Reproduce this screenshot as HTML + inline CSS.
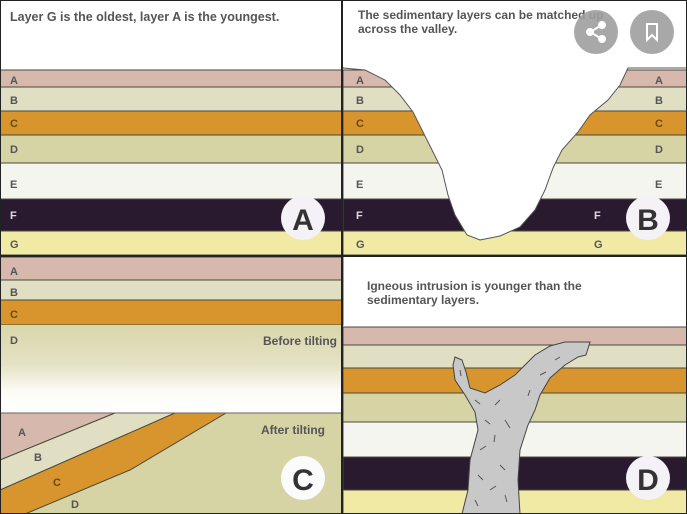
<!DOCTYPE html>
<html><head><meta charset="utf-8"><style>
html,body{margin:0;padding:0;background:#fff}
svg{display:block}
text{font-family:"Liberation Sans",sans-serif;font-weight:bold}
</style></head><body>
<svg width="687" height="514" viewBox="0 0 687 514" xmlns="http://www.w3.org/2000/svg">
<defs>
<linearGradient id="fade" x1="0" y1="0" x2="0" y2="1">
<stop offset="0" stop-color="#d9d6ab"/><stop offset="0.45" stop-color="#e4e2c4"/><stop offset="0.75" stop-color="#fbfbf6"/><stop offset="1" stop-color="#ffffff"/>
</linearGradient>
<g id="layers" stroke="#4a4a3a" stroke-width="1">
<rect x="0" y="70" width="344" height="17" fill="#d7b8ad"/>
<rect x="0" y="87" width="344" height="24" fill="#e0dfc4"/>
<rect x="0" y="111" width="344" height="24" fill="#d8952e"/>
<rect x="0" y="135" width="344" height="28" fill="#d6d3a5"/>
<rect x="0" y="163" width="344" height="36" fill="#f5f5f0"/>
<rect x="0" y="199" width="344" height="32" fill="#2a1a30"/>
<rect x="0" y="231" width="344" height="24" fill="#f0eaa5"/>
</g>
</defs>
<rect width="687" height="514" fill="#fff"/>
<!-- Panel A -->
<use href="#layers"/>
<g font-size="11" fill="#555">
<text x="10" y="21" font-size="12.5">Layer G is the oldest, layer A is the youngest.</text>
<text x="10" y="84">A</text><text x="10" y="104">B</text><text x="10" y="127" fill="#6a4a10">C</text>
<text x="10" y="153">D</text><text x="10" y="188">E</text><text x="10" y="219" fill="#ddd">F</text><text x="10" y="248">G</text>
</g>
<circle cx="303" cy="218" r="22" fill="#f4f2f6"/><text x="303" y="230" font-size="30" text-anchor="middle" fill="#333">A</text>
<!-- Panel B -->
<g transform="translate(343,0)"><use href="#layers"/></g>
<path d="M343,68 L365,70 L385,80 L400,95 L413,112 L422,130 L432,150 L442,170 L448,195 L455,215 L467,235 L480,240 L500,236 L520,227 L535,210 L545,190 L553,168 L562,150 L578,132 L590,115 L608,100 L620,85 L628,68 L687,68 L687,0 L343,0 Z" fill="#fff" stroke="#555" stroke-width="1"/>
<rect x="343" y="0" width="344" height="67" fill="#fff"/>
<g font-size="11" fill="#555">
<text x="358" y="19" font-size="12">The sedimentary layers can be matched up</text>
<text x="358" y="33" font-size="12">across the valley.</text>
<text x="356" y="84">A</text><text x="356" y="104">B</text><text x="356" y="127" fill="#6a4a10">C</text>
<text x="356" y="153">D</text><text x="356" y="188">E</text><text x="356" y="219" fill="#ddd">F</text><text x="356" y="248">G</text>
<text x="655" y="84">A</text><text x="655" y="104">B</text><text x="655" y="127" fill="#6a4a10">C</text>
<text x="655" y="153">D</text><text x="655" y="188">E</text><text x="594" y="219" fill="#ddd">F</text><text x="594" y="248">G</text>
</g>
<circle cx="648" cy="218" r="22" fill="#f4f2f6"/><text x="648" y="230" font-size="30" text-anchor="middle" fill="#333">B</text>
<circle cx="596" cy="32" r="22" fill="#9e9e9e" opacity="0.9"/>
<circle cx="652" cy="32" r="22" fill="#9e9e9e" opacity="0.9"/>
<g stroke="#fff" stroke-width="2" fill="#fff"><line x1="590" y1="32" x2="602" y2="25"/><line x1="590" y1="32" x2="602" y2="39"/><circle cx="590" cy="32" r="3"/><circle cx="602" cy="25" r="3"/><circle cx="602" cy="39" r="3"/></g>
<path d="M647,24 h10 v16 l-5,-5 l-5,5 z" fill="none" stroke="#fff" stroke-width="2"/>
<!-- Panel C -->
<g stroke="#4a4a3a" stroke-width="1">
<rect x="0" y="257" width="343" height="23" fill="#d7b8ad"/>
<rect x="0" y="280" width="343" height="20" fill="#e0dfc4"/>
<rect x="0" y="300" width="343" height="25" fill="#d8952e"/>
</g>
<rect x="0" y="325" width="343" height="88" fill="url(#fade)"/>
<rect x="0" y="413" width="343" height="101" fill="#d6d3a5"/>
<path d="M0,413 L115,413 L0,460 Z" fill="#d7b8ad" stroke="#4a4a3a"/>
<path d="M115,413 L175,413 L0,490 L0,460 Z" fill="#e0dfc4" stroke="#4a4a3a"/>
<path d="M175,413 L226,413 L130,470 L25,514 L0,514 L0,490 Z" fill="#d8952e" stroke="#4a4a3a"/>
<line x1="0" y1="413" x2="343" y2="413" stroke="#666"/>
<g font-size="11" fill="#555">
<text x="10" y="275">A</text><text x="10" y="296">B</text><text x="10" y="318" fill="#6a4a10">C</text><text x="10" y="344">D</text>
<text x="337" y="345" text-anchor="end" font-size="12">Before tilting</text>
<text x="325" y="434" text-anchor="end" font-size="12">After tilting</text>
<text x="18" y="436">A</text><text x="34" y="461">B</text><text x="53" y="486" fill="#6a4a10">C</text><text x="71" y="508">D</text>
</g>
<circle cx="303" cy="478" r="22" fill="#fbfbfb"/><text x="303" y="490" font-size="30" text-anchor="middle" fill="#333">C</text>
<!-- Panel D -->
<g stroke="#4a4a3a" stroke-width="1">
<rect x="343" y="327" width="344" height="18" fill="#d7b8ad"/>
<rect x="343" y="345" width="344" height="23" fill="#e0dfc4"/>
<rect x="343" y="368" width="344" height="25" fill="#d8952e"/>
<rect x="343" y="393" width="344" height="29" fill="#d6d3a5"/>
<rect x="343" y="422" width="344" height="35" fill="#f5f5f0"/>
<rect x="343" y="457" width="344" height="33" fill="#2a1a30"/>
<rect x="343" y="490" width="344" height="24" fill="#f0eaa5"/>
</g>
<path d="M462,514 L468,490 L470,460 L478,430 L475,412 L465,395 L455,380 L453,365 L455,357 L462,360 L466,372 L470,388 L485,393 L500,385 L515,375 L525,365 L535,355 L550,346 L565,342 L590,342 L586,355 L578,357 L565,365 L550,378 L540,395 L535,410 L528,425 L520,450 L518,480 L520,514 Z" fill="#c8c8c8" stroke="#444"/>
<g stroke="#555" stroke-width="1">
<line x1="475" y1="400" x2="480" y2="404"/><line x1="495" y1="405" x2="500" y2="400"/><line x1="485" y1="420" x2="490" y2="424"/><line x1="505" y1="420" x2="510" y2="428"/><line x1="495" y1="435" x2="494" y2="442"/><line x1="480" y1="450" x2="486" y2="446"/><line x1="500" y1="465" x2="505" y2="470"/><line x1="478" y1="475" x2="483" y2="480"/><line x1="490" y1="490" x2="496" y2="486"/><line x1="505" y1="495" x2="507" y2="502"/><line x1="475" y1="500" x2="478" y2="506"/><line x1="540" y1="375" x2="546" y2="372"/><line x1="555" y1="360" x2="560" y2="357"/><line x1="530" y1="390" x2="528" y2="396"/><line x1="460" y1="370" x2="461" y2="376"/>
</g>
<g font-size="12" fill="#555">
<text x="367" y="290">Igneous intrusion is younger than the</text>
<text x="367" y="304">sedimentary layers.</text>
</g>
<circle cx="648" cy="478" r="22" fill="#f4f2f6"/><text x="648" y="490" font-size="30" text-anchor="middle" fill="#333">D</text>
<!-- borders -->
<line x1="342" y1="0" x2="342" y2="514" stroke="#222" stroke-width="2"/>
<line x1="0" y1="256" x2="687" y2="256" stroke="#222" stroke-width="2"/>
<rect x="0.5" y="0.5" width="686" height="513" fill="none" stroke="#222" stroke-width="1"/>
</svg>
</body></html>
